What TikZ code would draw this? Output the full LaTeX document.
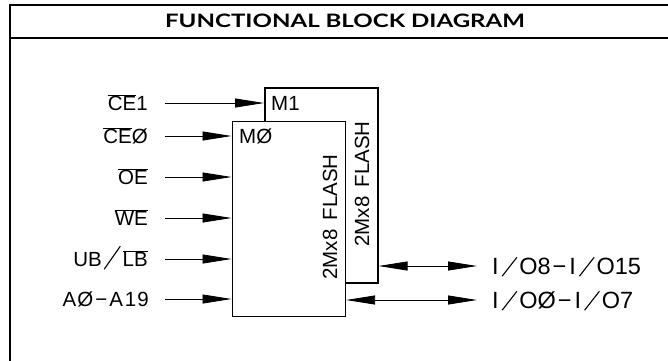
\documentclass[tikz,border=0pt]{standalone}
\usepackage{fontspec}
\usepackage{graphicx}
\setmainfont{Liberation Sans}
\newfontfamily\titlefont{Lato}
\usetikzlibrary{arrows.meta}
\newcommand\slashl[3]{\raisebox{#3}{\rotatebox{#2}{\rule{#1}{1.1pt}}}}
\newcommand\SLo{\hspace{2pt}\slashl{24pt}{52}{-2pt}\hspace{2pt}}
\newcommand\DA{\hspace{2pt}−\hspace{2pt}}
\newcommand\II{\hspace{1pt}I\hspace{1pt}}
\newcommand\ovl[1]{$\overline{\mbox{#1}}$}
\begin{document}
\begin{tikzpicture}[x=1pt,y=-1pt,
  every node/.style={font=\fontsize{20.5}{23}\selectfont},
  frame/.style={line width=2pt},
  blk/.style={draw, line width=1.6pt, fill=white, minimum width=113pt, minimum height=195pt, anchor=north west, inner sep=0pt},
  lab/.style={anchor=base east, inner sep=0pt},
  txt/.style={anchor=base west, inner sep=0pt},
  outlab/.style={anchor=base west, inner sep=0pt, font=\fontsize{23.5}{26}\selectfont},
  sig/.style={line width=0.8pt, -{Triangle[length=29pt,width=9pt]}},
  bus/.style={line width=0.8pt, {Triangle[length=29pt,width=9pt]}-{Triangle[length=29pt,width=9pt]}},
]
\useasboundingbox (0,0) rectangle (668,360);
\draw[frame] (668,4.5) -- (9.5,4.5) -- (9.5,361);
\draw[frame] (9.5,37.5) -- (668,37.5);
\node[font=\titlefont\bfseries\fontsize{18.5}{20}\selectfont] (title) at (345,21) {\scalebox{1.3}[1]{FUNCTIONAL BLOCK DIAGRAM}};

\node[blk] (m1) at (264,87) {};
\node[blk] (m0) at (231.5,120.5) {};
\node[txt] (m1t) at (271,110.5) {M1};
\node[txt] (m0t) at (239,143.5) {MØ};
\node[rotate=90, inner sep=0pt] (f0) at (330,217) {2Mx8\hspace{9pt}FLASH};
\node[rotate=90, inner sep=0pt] (f1) at (362,184) {2Mx8\hspace{9pt}FLASH};

\node[lab] (l1) at (148,110.5) {\ovl{CE}1};
\node[lab] (l2) at (148,143.5) {\ovl{CE}Ø};
\node[lab] (l3) at (148,184.5) {\ovl{OE}};
\node[lab] (l4) at (148,225.5) {\ovl{WE}};
\node[lab] (l5) at (148,266.5) {UB\hspace{2pt}\slashl{28pt}{55}{-3pt}\hspace{2pt}\ovl{LB}};
\node[lab] (l6) at (149,306.5) {A\hspace{1pt}Ø\DA A\hspace{2pt}1\hspace{1pt}9};

\coordinate (s1) at (165,103); \draw[sig] (s1) -- (s1 -| m1.west);
\coordinate (s2) at (165,136); \draw[sig] (s2) -- (s2 -| m0.west);
\coordinate (s3) at (165,177); \draw[sig] (s3) -- (s3 -| m0.west);
\coordinate (s4) at (165,218); \draw[sig] (s4) -- (s4 -| m0.west);
\coordinate (s5) at (165,259); \draw[sig] (s5) -- (s5 -| m0.west);
\coordinate (s6) at (165,299); \draw[sig] (s6) -- (s6 -| m0.west);

\coordinate (o1) at (477,266); \draw[bus] (o1 -| m1.east) -- (o1);
\coordinate (o2) at (477,300); \draw[bus] (o2 -| m0.east) -- (o2);
\node[outlab] (t1) at (491,274.5) {\II\SLo O8\DA\II\SLo O15};
\node[outlab] (t2) at (491,308.5) {\II\SLo OØ\DA\II\SLo O7};
\end{tikzpicture}
\end{document}
